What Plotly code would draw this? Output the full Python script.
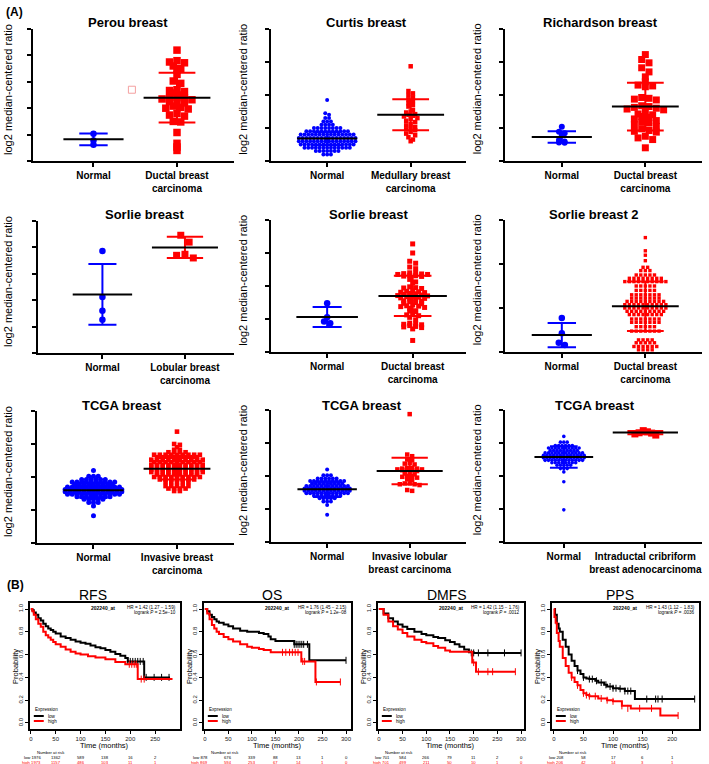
import plotly.graph_objects as go

W, H = 709, 764
FONT = "Liberation Sans, Arial, sans-serif"
BLUE = "#0000FF"
RED = "#FF0000"

# %%----------------------------- Panel A data --------------------------------
titles = ["Perou breast", "Curtis breast", "Richardson breast",
          "Sorlie breast", "Sorlie breast", "Sorlie breast 2",
          "TCGA breast", "TCGA breast", "TCGA breast"]
tumor_labels = ["Ductal breast<br>carcinoma", "Medullary breast<br>carcinoma",
                "Ductal breast<br>carcinoma", "Lobular breast<br>carcinoma",
                "Ductal breast<br>carcinoma", "Ductal breast<br>carcinoma",
                "Invasive breast<br>carcinoma", "Invasive lobular<br>breast carcinoma",
                "Intraductal cribriform<br>breast adenocarcinoma"]
y_ranges = [[-5, 0], [0, 4], [-2, 6], [-5, -2.5], [-6, 2], [-2, 4], [-6, 2], [-6, 2], [-8, 0]]
y_ticks = [[-5, -4, -3, -2, -1, 0], [0, 1, 2, 3, 4], [-2, 0, 2, 4, 6],
           [-5.0, -4.5, -4.0, -3.5, -3.0, -2.5], [-6, -4, -2, 0, 2], [-2, 0, 2, 4],
           [-6, -4, -2, 0, 2], [-6, -4, -2, 0, 2], [-8, -6, -4, -2, 0]]

perou_normal = [-3.97, -4.22, -4.38]
perou_tumor = [-0.8, -1.2, -1.25, -1.28, -1.4, -1.5, -1.55, -1.72, -1.97, -2.06, -2.3, -2.33,
               -2.37, -2.42, -2.5, -2.58, -2.6, -2.62, -2.65, -2.68, -2.7, -2.75, -2.8, -2.92,
               -2.97, -3.0, -3.03, -3.2, -3.26, -3.3, -3.5, -3.52, -3.92, -4.33, -4.47, -4.6]
curtis_normal = [1.85, 1.45, 1.4, 1.3, 1.3, 1.2, 1.2, 1.2, 1.1, 1.1, 1.1, 1.1,
                 1.0, 1.0, 1.0, 1.0, 1.0, 1.0, 1.0, 1.0,
                 0.9, 0.9, 0.9, 0.9, 0.9, 0.9, 0.9, 0.9, 0.9, 0.9, 0.9, 0.9,
                 0.8, 0.8, 0.8, 0.8, 0.8, 0.8, 0.8, 0.8, 0.8, 0.8, 0.8, 0.8, 0.8, 0.8, 0.8,
                 0.7, 0.7, 0.7, 0.7, 0.7, 0.7, 0.7, 0.7, 0.7, 0.7, 0.7, 0.7, 0.7, 0.7, 0.7, 0.7,
                 0.6, 0.6, 0.6, 0.6, 0.6, 0.6, 0.6, 0.6, 0.6, 0.6, 0.6, 0.6, 0.6, 0.6, 0.6, 0.6,
                 0.5, 0.5, 0.5, 0.5, 0.5, 0.5, 0.5, 0.5, 0.5, 0.5, 0.5, 0.5, 0.5, 0.5, 0.5,
                 0.4, 0.4, 0.4, 0.4, 0.4, 0.4, 0.4, 0.4, 0.4, 0.4, 0.4, 0.4, 0.4,
                 0.3, 0.3, 0.3, 0.3, 0.3, 0.3, 0.3, 0.2, 0.2, 0.2]
curtis_tumor = [2.87, 2.12, 2.05, 2.0, 1.93, 1.87, 1.82, 1.75, 1.7, 1.65, 1.55, 1.5, 1.47, 1.42,
                1.4, 1.37, 1.35, 1.3, 1.27, 1.22, 1.18, 1.12, 1.08, 1.03, 1.0, 0.96, 0.93, 0.88,
                0.83, 0.78, 0.72, 0.65, 0.6]
richardson_normal = [0.08, -0.22, -0.32, -0.45, -0.72, -0.82, -0.88, -0.9]
richardson_tumor = [4.45, 4.15, 3.95, 3.65, 3.4, 3.1, 2.8, 2.6, 2.55, 2.5, 1.85, 1.8, 1.75, 1.7,
                    1.35, 1.3, 1.25, 1.2, 1.15, 1.1, 1.05, 0.85, 0.8, 0.7, 0.65, 0.55, 0.45, 0.35,
                    0.3, 0.2, 0.1, -0.05, -0.15, -0.2, -0.25, -0.5, -0.6, -0.7, -1.2]
sorlie_lob_normal = [-3.07, -3.94, -4.2, -4.37]
sorlie_lob_tumor = [-2.77, -2.9, -3.13, -3.15, -3.2]
sorlie_duct_normal = [-3.05, -3.9, -4.15, -4.25]
sorlie_duct_tumor = [0.55, 0.0, -0.5, -0.62, -0.85, -0.95, -1.2, -1.22, -1.25, -1.27, -1.3, -1.3,
                     -1.35, -1.38, -1.4, -1.42, -1.6, -1.75, -1.8, -2.05, -2.1, -2.12, -2.15, -2.3,
                     -2.32, -2.35, -2.38, -2.4, -2.45, -2.47, -2.5, -2.55, -2.58, -2.6, -2.62, -2.65,
                     -2.68, -2.72, -2.75, -2.78, -2.8, -2.9, -2.92, -2.95, -3.0, -3.05, -3.08, -3.15,
                     -3.2, -3.22, -3.25, -3.3, -3.35, -3.5, -3.52, -3.55, -3.7, -3.75, -3.8, -3.9,
                     -4.05, -4.25, -4.3, -4.32, -4.35, -4.4, -4.45, -4.48, -4.52, -4.6, -5.3]
sorlie2_normal = [-0.45, -1.15, -1.58, -1.68]
sorlie2_tumor = [3.2, 2.6, 2.4, 2.15, 1.85, 1.85, 1.7, 1.7, 1.7,
                 1.5, 1.5, 1.5, 1.5, 1.5, 1.35, 1.35, 1.35, 1.35, 1.35, 1.35, 1.35, 1.35,
                 1.2, 1.2, 1.2, 1.2, 1.2, 1.2, 1.2, 1.2, 1.2, 1.2, 1.0, 1.0, 1.0, 1.0, 1.0,
                 0.8, 0.8, 0.8, 0.8, 0.8, 0.6, 0.6, 0.6, 0.6, 0.6, 0.6, 0.6,
                 0.45, 0.45, 0.45, 0.45, 0.45, 0.45, 0.45, 0.3, 0.3, 0.3, 0.3, 0.3, 0.3, 0.3, 0.3, 0.3,
                 0.15, 0.15, 0.15, 0.15, 0.15, 0.15, 0.15, 0.15, 0.15, 0.15,
                 0.0, 0.0, 0.0, 0.0, 0.0, 0.0, 0.0, 0.0, 0.0, 0.0,
                 -0.15, -0.15, -0.15, -0.15, -0.15, -0.15, -0.15, -0.15, -0.15,
                 -0.3, -0.3, -0.3, -0.3, -0.3, -0.3, -0.3, -0.3,
                 -0.5, -0.5, -0.5, -0.5, -0.5, -0.5, -0.5, -0.65, -0.65, -0.65, -0.65, -0.65, -0.65, -0.65,
                 -0.85, -0.85, -0.85, -0.85, -0.85, -1.05, -1.05, -1.05, -1.05, -1.05, -1.05, -1.05,
                 -1.45, -1.45, -1.45, -1.45, -1.58, -1.58, -1.58, -1.58, -1.58,
                 -1.75, -1.75, -1.75, -1.75, -1.75, -1.75, -1.9, -1.9, -1.9, -1.9]
tcga_normal = [-1.6, -1.95, -1.95, -1.95, -2.15, -2.15, -2.15, -2.15, -2.15, -2.15,
               -2.3, -2.3, -2.3, -2.3, -2.3, -2.3, -2.3, -2.3, -2.3, -2.3,
               -2.45, -2.45, -2.45, -2.45, -2.45, -2.45, -2.45, -2.45, -2.45,
               -2.6, -2.6, -2.6, -2.6, -2.6, -2.6, -2.6, -2.6, -2.6, -2.6, -2.6, -2.6,
               -2.75, -2.75, -2.75, -2.75, -2.75, -2.75, -2.75, -2.75, -2.75, -2.75, -2.75, -2.75, -2.75,
               -2.9, -2.9, -2.9, -2.9, -2.9, -2.9, -2.9, -2.9, -2.9, -2.9, -2.9, -2.9, -2.9,
               -3.05, -3.05, -3.05, -3.05, -3.05, -3.05, -3.05, -3.05, -3.05, -3.05, -3.05, -3.05,
               -3.2, -3.2, -3.2, -3.2, -3.2, -3.2, -3.2, -3.2, -3.35, -3.35, -3.35, -3.35, -3.35,
               -3.55, -3.55, -3.55, -3.75, -4.35]
tcga_crib_normal_extra = [-6.05]
tcga_inv_tumor = [0.75, 0.0, -0.05, -0.2, -0.35, -0.35, -0.5, -0.5, -0.5, -0.5,
                  -0.65, -0.65, -0.65, -0.65, -0.65, -0.65, -0.65, -0.65, -0.65,
                  -0.8, -0.8, -0.8, -0.8, -0.8, -0.8, -0.8, -0.8,
                  -0.95, -0.95, -0.95, -0.95, -0.95, -0.95, -0.95, -0.95, -0.95, -0.95,
                  -1.1, -1.1, -1.1, -1.1, -1.1, -1.1, -1.1, -1.1, -1.1,
                  -1.25, -1.25, -1.25, -1.25, -1.25, -1.25, -1.25, -1.25, -1.25, -1.25,
                  -1.4, -1.4, -1.4, -1.4, -1.4, -1.4, -1.4, -1.4, -1.4, -1.4,
                  -1.55, -1.55, -1.55, -1.55, -1.55, -1.55, -1.55, -1.55, -1.55, -1.55,
                  -1.7, -1.7, -1.7, -1.7, -1.7, -1.7, -1.7, -1.7, -1.7, -1.7,
                  -1.85, -1.85, -1.85, -1.85, -1.85, -1.85, -1.85, -1.85,
                  -2.0, -2.0, -2.0, -2.0, -2.0, -2.0, -2.0, -2.0, -2.0,
                  -2.15, -2.15, -2.15, -2.15, -2.15, -2.15, -2.15,
                  -2.3, -2.3, -2.3, -2.3, -2.3, -2.55, -2.55, -2.55, -2.55, -2.55,
                  -2.7, -2.7, -2.7, -2.7, -2.85, -2.85]
tcga_lob_tumor = [1.75, -0.7, -0.8, -1.0, -1.05, -1.2, -1.25, -1.3, -1.5, -1.5, -1.55, -1.55,
                  -1.6, -1.6, -1.62, -1.65, -1.65, -1.7, -1.8, -1.85, -1.9, -2.0, -2.0, -2.05,
                  -2.1, -2.2, -2.25, -2.45, -2.45, -2.5, -2.5, -2.55, -2.85, -2.9]
tcga_crib_tumor = [-1.25, -1.32, -1.38, -1.4, -1.45, -1.52]

normal_sets = [perou_normal, curtis_normal, richardson_normal, sorlie_lob_normal,
               sorlie_duct_normal, sorlie2_normal, tcga_normal, tcga_normal,
               tcga_normal + tcga_crib_normal_extra]
tumor_sets = [perou_tumor, curtis_tumor, richardson_tumor, sorlie_lob_tumor, sorlie_duct_tumor,
              sorlie2_tumor, tcga_inv_tumor, tcga_lob_tumor, tcga_crib_tumor]
# mean and SD
normal_mean = [-4.18, 0.68, -0.55, -3.89, -3.88, -1.23, -2.8, -2.8, -2.85]
normal_sd = [0.22, 0.2, 0.35, 0.575, 0.6, 0.55, 0.45, 0.47, 0.65]
tumor_mean = [-2.6, 1.4, 1.3, -3.0, -2.6, 0.08, -1.5, -1.7, -1.37]
tumor_sd = [0.94, 0.47, 1.45, 0.2, 1.22, 1.13, 0.65, 0.8, 0.1]
# stray marks visible in the figure: (panel, x in category units, y)
stray_panel = [0, 1]
stray_x = [0.46, -0.95]
stray_y = [-2.3, 2.15]

# %%----------------------------- Panel B data (KM) ---------------------------
km_titles = ["RFS", "OS", "DMFS", "PPS"]
km_hr = ["HR = 1.42 (1.27 \u2212 1.59)", "HR = 1.76 (1.45 \u2212 2.15)",
         "HR = 1.42 (1.15 \u2212 1.76)", "HR = 1.43 (1.12 \u2212 1.83)"]
km_p = ["2.5e\u221210", "1.2e\u221208", ".0012", ".0036"]

rfs_low_t = [0, 3, 6, 10, 15, 20, 25, 30, 35, 40, 45, 50, 60, 70, 80, 90, 100, 110, 120, 130, 140, 150, 160, 170, 180, 190, 195, 228, 280]
rfs_low_s = [1.0, 0.99, 0.97, 0.95, 0.92, 0.9, 0.87, 0.85, 0.83, 0.815, 0.8, 0.785, 0.76, 0.745, 0.73, 0.715, 0.705, 0.695, 0.68, 0.665, 0.655, 0.64, 0.625, 0.605, 0.59, 0.57, 0.54, 0.40, 0.40]
rfs_high_t = [0, 3, 6, 10, 15, 20, 25, 30, 35, 40, 45, 50, 60, 70, 80, 90, 100, 115, 130, 150, 170, 190, 215, 285]
rfs_high_s = [1.0, 0.98, 0.95, 0.91, 0.87, 0.845, 0.8, 0.77, 0.75, 0.73, 0.71, 0.69, 0.67, 0.645, 0.625, 0.61, 0.6, 0.585, 0.575, 0.56, 0.535, 0.515, 0.385, 0.385]
os_low_t = [0, 5, 10, 15, 20, 25, 30, 40, 50, 60, 75, 90, 100, 115, 125, 135, 140, 150, 190, 222, 300]
os_low_s = [1.0, 0.98, 0.95, 0.93, 0.91, 0.89, 0.88, 0.865, 0.85, 0.83, 0.81, 0.8, 0.8, 0.79, 0.78, 0.76, 0.735, 0.72, 0.69, 0.55, 0.55]
os_high_t = [0, 5, 10, 15, 20, 25, 30, 40, 50, 60, 75, 90, 100, 115, 125, 140, 160, 205, 235, 288]
os_high_s = [1.0, 0.96, 0.91, 0.86, 0.83, 0.8, 0.78, 0.755, 0.735, 0.715, 0.69, 0.67, 0.66, 0.65, 0.64, 0.62, 0.62, 0.54, 0.36, 0.36]
dmfs_low_t = [0, 10, 20, 30, 40, 50, 60, 75, 90, 100, 115, 125, 140, 150, 160, 170, 180, 190, 200, 300]
dmfs_low_s = [1.0, 0.96, 0.92, 0.89, 0.865, 0.845, 0.825, 0.8, 0.78, 0.77, 0.755, 0.745, 0.725, 0.71, 0.69, 0.67, 0.645, 0.62, 0.615, 0.615]
dmfs_high_t = [0, 10, 20, 30, 40, 50, 60, 75, 90, 100, 115, 125, 140, 150, 170, 197, 205, 288]
dmfs_high_s = [1.0, 0.95, 0.89, 0.85, 0.82, 0.79, 0.76, 0.73, 0.71, 0.7, 0.675, 0.66, 0.635, 0.625, 0.625, 0.53, 0.45, 0.45]
pps_low_t = [0, 2, 5, 8, 10, 15, 20, 25, 30, 35, 40, 45, 50, 55, 60, 70, 75, 85, 90, 100, 110, 120, 137, 238]
pps_low_s = [1.0, 0.95, 0.87, 0.83, 0.8, 0.73, 0.67, 0.6, 0.545, 0.5, 0.46, 0.43, 0.4, 0.39, 0.385, 0.37, 0.355, 0.335, 0.32, 0.305, 0.3, 0.28, 0.21, 0.21]
pps_high_t = [0, 1, 3, 5, 8, 10, 15, 20, 25, 30, 35, 40, 45, 50, 55, 60, 75, 90, 100, 115, 130, 180, 210]
pps_high_s = [1.0, 0.93, 0.88, 0.79, 0.72, 0.67, 0.57, 0.5, 0.44, 0.4, 0.36, 0.33, 0.29, 0.26, 0.245, 0.235, 0.215, 0.2, 0.19, 0.15, 0.128, 0.065, 0.065]

# censored observations (+ marks)
rfs_low_ct = [195, 200, 205, 210, 215, 220, 226, 232, 248, 263, 278]
rfs_low_cs = [0.54, 0.54, 0.54, 0.54, 0.54, 0.54, 0.54, 0.40, 0.40, 0.40, 0.40]
rfs_high_ct = [198, 203, 208, 212, 222, 228]
rfs_high_cs = [0.515, 0.515, 0.515, 0.515, 0.385, 0.385]
os_low_ct = [190, 194, 198, 202, 206, 210, 218, 300]
os_low_cs = [0.69, 0.69, 0.69, 0.69, 0.69, 0.69, 0.69, 0.55]
os_high_ct = [165, 172, 180, 186, 192, 198, 208, 212, 237, 288]
os_high_cs = [0.62, 0.62, 0.62, 0.62, 0.62, 0.62, 0.54, 0.54, 0.36, 0.36]
dmfs_low_ct = [195, 200, 210, 230, 265, 300]
dmfs_low_cs = [0.615, 0.615, 0.615, 0.615, 0.615, 0.615]
dmfs_high_ct = [200, 210, 230, 240, 288]
dmfs_high_cs = [0.53, 0.45, 0.45, 0.45, 0.45]
pps_low_ct = [40, 50, 60, 65, 72, 80, 88, 95, 100, 105, 112, 120, 125, 130, 157, 172, 176, 183, 238]
pps_low_cs = [0.46, 0.4, 0.385, 0.385, 0.37, 0.355, 0.335, 0.32, 0.305, 0.305, 0.3, 0.28, 0.28, 0.28, 0.21, 0.21, 0.21, 0.21, 0.21]
pps_high_ct = [30, 40, 50, 55, 60, 70, 80, 90, 100, 115, 125, 145, 165, 210]
pps_high_cs = [0.4, 0.33, 0.26, 0.245, 0.235, 0.235, 0.215, 0.2, 0.19, 0.15, 0.128, 0.128, 0.128, 0.065]

risk_t = [[0, 50, 100, 150, 200, 250], [0, 50, 100, 150, 200, 250, 300],
          [0, 50, 100, 150, 200, 250, 300], [0, 50, 100, 150, 200]]
risk_low = [[1976, 1362, 589, 138, 16, 2], [878, 676, 339, 88, 13, 1, 0],
            [701, 584, 266, 79, 11, 2, 0], [208, 58, 17, 6, 1]]
risk_high = [[1973, 1157, 486, 103, 11, 1], [869, 594, 253, 67, 14, 1, 0],
             [701, 499, 211, 50, 10, 1, 0], [206, 42, 14, 3, 1]]

km_low = [(rfs_low_t, rfs_low_s, rfs_low_ct, rfs_low_cs), (os_low_t, os_low_s, os_low_ct, os_low_cs),
          (dmfs_low_t, dmfs_low_s, dmfs_low_ct, dmfs_low_cs), (pps_low_t, pps_low_s, pps_low_ct, pps_low_cs)]
km_high = [(rfs_high_t, rfs_high_s, rfs_high_ct, rfs_high_cs), (os_high_t, os_high_s, os_high_ct, os_high_cs),
           (dmfs_high_t, dmfs_high_s, dmfs_high_ct, dmfs_high_cs), (pps_high_t, pps_high_s, pps_high_ct, pps_high_cs)]


# %%----------------------------- Helpers -------------------------------------
def fx(p):
    return p / W


def fy(p):
    return 1 - p / H


def swarm(vals, h, dx):
    """GraphPad-like scatter: points within h of a row start share a row, spread sideways."""
    order = sorted(range(len(vals)), key=lambda i: -vals[i])
    groups, cur, start = [], [], None
    for i in order:
        if start is None or start - vals[i] > h:
            if cur:
                groups.append(cur)
            cur, start = [i], vals[i]
        else:
            cur.append(i)
    if cur:
        groups.append(cur)
    offs = [0.0] * len(vals)
    for g in groups:
        n = len(g)
        slots = sorted(range(n), key=lambda k: (abs(k - (n - 1) / 2), k))
        for i, k in zip(g, slots):
            offs[i] = (k - (n - 1) / 2) * dx
    return offs


# layout of panel A (pixels): axis left, axis right, top, bottom, x of cat 0, x of cat 1, title x
pa_L = [32, 272, 507, 37, 272, 507, 36, 272, 507]
pa_R = [234, 468, 705, 234, 468, 705, 234, 468, 705]
pa_T = [29, 29, 29, 221, 220, 220, 411, 410, 410]
pa_B = [161, 161, 161, 353, 352, 352, 543, 542, 542]
pa_c0 = [93, 328, 564, 102, 328, 564, 93, 328, 566]
pa_c1 = [177, 412, 648, 185, 414, 648, 177, 411, 648]
pa_tx = [128, 368, 603, 144, 370, 596, 122, 363, 597]
pa_ty = [23, 23, 23, 214, 214, 214, 405, 405, 405]
ytitle_x = [7, 243, 479]
n_size = [6.5, 4, 6, 6.5, 6.5, 6.5, 5, 4, 3.6]
t_size = [7.5, 4.5, 7, 7, 5, 3.4, 4.6, 4.5, 7]
n_h = [0.1, 0.06, 0.15, 0.1, 0.2, 0.15, 0.1, 0.1, 0.1]
t_h = [0.12, 0.1, 0.25, 0.14, 0.15, 0.1, 0.1, 0.12, 0.3]
t_dx = [1.0, 1.0, 1.05, 1.2, 1.2, 1.35, 1.25, 1.1, 0.6]
tickfont_a = dict(family=FONT, size=10, color="black", weight="bold")

fig = go.Figure()
annotations = []
shapes = []
layout = {}

for k in range(9):
    sfx = "" if k == 0 else str(k + 1)
    xa, ya = "x" + sfx, "y" + sfx
    unit = pa_c1[k] - pa_c0[k]
    xr = [(pa_L[k] - pa_c0[k]) / unit, (pa_R[k] - pa_c0[k]) / unit]
    lo, hi = y_ranges[k]
    layout["xaxis" + sfx] = dict(
        domain=[fx(pa_L[k]), fx(pa_R[k])], range=xr, anchor=ya,
        tickvals=[0, 1], ticktext=["Normal", tumor_labels[k]],
        showline=True, linewidth=2, linecolor="black", ticks="outside", ticklen=4,
        tickwidth=2, tickcolor="black", showgrid=False, zeroline=False, tickfont=tickfont_a)
    layout["yaxis" + sfx] = dict(
        domain=[fy(pa_B[k]), fy(pa_T[k])], range=[lo, hi], anchor=xa,
        tickvals=y_ticks[k], showticklabels=False,
        showline=True, linewidth=2, linecolor="black", ticks="outside", ticklen=4,
        tickwidth=2, tickcolor="black", showgrid=False, zeroline=False)
    # y tick labels as a text trace just left of the axis line
    labs = [("%.1f" % v if k == 3 else "%d" % v).replace("-", "\u2212") for v in y_ticks[k]]
    fig.add_trace(go.Scatter(
        x=[xr[0] - 4.5 / unit] * len(labs), y=y_ticks[k], xaxis=xa, yaxis=ya, mode="text",
        text=labs, textposition="middle left", textfont=tickfont_a,
        cliponaxis=False, showlegend=False, hoverinfo="skip"))

    for j, (vals, col, sym, size, h, dxf) in enumerate([
            (normal_sets[k], BLUE, "circle", n_size[k], n_h[k], 0.95),
            (tumor_sets[k], RED, "square", t_size[k], t_h[k], t_dx[k])]):
        offs = swarm(vals, h, size * dxf / unit)
        fig.add_trace(go.Scatter(
            x=[j + o for o in offs], y=vals, xaxis=xa, yaxis=ya, mode="markers",
            marker=dict(color=col, symbol=sym, size=size, line_width=0),
            cliponaxis=False, showlegend=False, hoverinfo="skip"))

    # SD bars and mean lines
    for j, (m, s, col, cap, half) in enumerate([
            (normal_mean[k], normal_sd[k], BLUE, 0.17, 0.36),
            (tumor_mean[k], tumor_sd[k], RED, 0.22, 0.4)]):
        fig.add_trace(go.Scatter(
            x=[j, j, None, j - cap, j + cap, None, j - cap, j + cap],
            y=[m - s, m + s, None, m + s, m + s, None, m - s, m - s],
            xaxis=xa, yaxis=ya, mode="lines", line=dict(color=col, width=2),
            showlegend=False, hoverinfo="skip"))
        fig.add_trace(go.Scatter(
            x=[j - half, j + half], y=[m, m], xaxis=xa, yaxis=ya, mode="lines",
            line=dict(color="black", width=2), showlegend=False, hoverinfo="skip"))

    annotations.append(dict(x=fx(pa_tx[k]), y=fy(pa_ty[k]), xref="paper", yref="paper",
                            text="<b>%s</b>" % titles[k], showarrow=False,
                            font=dict(family=FONT, size=13, color="black")))
    annotations.append(dict(x=fx(ytitle_x[k % 3]), y=fy((pa_T[k] + pa_B[k]) / 2 - 6),
                            xref="paper", yref="paper", text="log2 median-centered ratio",
                            textangle=-90, showarrow=False,
                            font=dict(family=FONT, size=11, color="black")))

# stray marks
for p, sx, sy in zip(stray_panel, stray_x, stray_y):
    sfx = "" if p == 0 else str(p + 1)
    fig.add_trace(go.Scatter(
        x=[sx], y=[sy], xaxis="x" + sfx, yaxis="y" + sfx, mode="markers",
        marker=dict(symbol="square-open" if p == 0 else "square",
                    color="#F4A0A0" if p == 0 else RED, size=7 if p == 0 else 6,
                    line=dict(width=1, color="#F4A0A0" if p == 0 else RED)),
        cliponaxis=False, showlegend=False, hoverinfo="skip"))

# %%----------------------------- Panel B (KM) --------------------------------
km_L = [29, 204, 379, 554]
km_R = [180, 352, 526, 702]
km_T, km_B = 603, 729
km_x0 = [30, 205, 380, 556]
km_ppm = [0.5, 0.4733, 0.4767, 0.595]  # pixels per month
km_ticks = [[0, 50, 100, 150, 200, 250], [0, 50, 100, 150, 200, 250, 300],
            [0, 50, 100, 150, 200, 250, 300], [0, 50, 100, 150, 200]]
km_title_x = [93, 273, 449, 623]
risk_shift = [12, 5, 13, 12]

for i in range(4):
    n = 10 + i
    sfx = str(n)
    xa, ya = "x" + sfx, "y" + sfx
    xr = [(km_L[i] - km_x0[i]) / km_ppm[i], (km_R[i] - km_x0[i]) / km_ppm[i]]
    layout["xaxis" + sfx] = dict(
        domain=[fx(km_L[i]), fx(km_R[i])], range=xr, anchor=ya, tickvals=km_ticks[i],
        showline=True, mirror=True, linewidth=1.5, linecolor="black", ticks="outside",
        ticklen=3, tickwidth=0.8, tickcolor="black", showgrid=False, zeroline=False,
        tickfont=dict(family=FONT, size=6, color="#222"))
    layout["yaxis" + sfx] = dict(
        domain=[fy(km_B), fy(km_T)], range=[-0.053, 1.053], anchor=xa,
        tickvals=[0, 0.2, 0.4, 0.6, 0.8, 1.0], tickformat=".1f", tickangle=-90,
        showline=True, mirror=True, linewidth=1.5, linecolor="black", ticks="outside",
        ticklen=3, tickwidth=0.8, tickcolor="black", showgrid=False, zeroline=False,
        tickfont=dict(family=FONT, size=6, color="#222"))
    for (t, s, ct, cs), col in [(km_low[i], "black"), (km_high[i], RED)]:
        fig.add_trace(go.Scatter(x=t, y=s, xaxis=xa, yaxis=ya, mode="lines",
                                 line=dict(color=col, width=2, shape="hv"),
                                 showlegend=False, hoverinfo="skip"))
        fig.add_trace(go.Scatter(x=ct, y=cs, xaxis=xa, yaxis=ya, mode="markers",
                                 marker=dict(symbol="line-ns", size=5,
                                             line=dict(color=col, width=1)),
                                 showlegend=False, hoverinfo="skip"))

    L, R = km_L[i], km_R[i]
    small = dict(family=FONT, size=4.6, color="black")
    annotations += [
        dict(x=fx(km_title_x[i]), y=fy(595), xref="paper", yref="paper", text=km_titles[i],
             showarrow=False, font=dict(family=FONT, size=14, color="black")),
        dict(x=fx(L + 74), y=fy(608), xref="paper", yref="paper", text="<b>202240_at</b>",
             showarrow=False, font=dict(family=FONT, size=5, color="black")),
        dict(x=fx(R - 2), y=fy(607.5), xref="paper", yref="paper", xanchor="right",
             text=km_hr[i], showarrow=False, font=small),
        dict(x=fx(R - 2), y=fy(612.5), xref="paper", yref="paper", xanchor="right",
             text="logrank <i>P</i> = " + km_p[i], showarrow=False, font=small),
        dict(x=fx(L + 3), y=fy(709), xref="paper", yref="paper", xanchor="left",
             text="Expression", showarrow=False, font=small),
        dict(x=fx(L + 16), y=fy(716), xref="paper", yref="paper", xanchor="left",
             text="low", showarrow=False, font=small),
        dict(x=fx(L + 16), y=fy(721), xref="paper", yref="paper", xanchor="left",
             text="high", showarrow=False, font=small),
        dict(x=fx((L + R) / 2), y=fy(745), xref="paper", yref="paper", text="Time (months)",
             showarrow=False, font=dict(family=FONT, size=7.5, color="black")),
        dict(x=fx(L - 15), y=fy((km_T + km_B) / 2), xref="paper", yref="paper",
             text="Probability", textangle=-90, showarrow=False,
             font=dict(family=FONT, size=7.5, color="black")),
        dict(x=fx(L + 21), y=fy(752.5), xref="paper", yref="paper", text="Number at risk",
             showarrow=False, font=dict(family=FONT, size=4.2, color="black")),
    ]
    shapes += [
        dict(type="line", xref="paper", yref="paper", x0=fx(L + 4), x1=fx(L + 14),
             y0=fy(716), y1=fy(716), line=dict(color="black", width=2)),
        dict(type="line", xref="paper", yref="paper", x0=fx(L + 4), x1=fx(L + 14),
             y0=fy(721), y1=fy(721), line=dict(color=RED, width=2)),
    ]
    for row, (vals, col, lab, ypx) in enumerate([(risk_low[i], "black", "low", 757.5),
                                                  (risk_high[i], RED, "high", 762)]):
        for c, (t, v) in enumerate(zip(risk_t[i], vals)):
            if c == 0:
                annotations.append(dict(x=t, y=fy(ypx), xref=xa, yref="paper", xanchor="right",
                                        xshift=risk_shift[i], text="%s %d" % (lab, v),
                                        showarrow=False, font=dict(family=FONT, size=4.2, color=col)))
            else:
                annotations.append(dict(x=t, y=fy(ypx), xref=xa, yref="paper", text=str(v),
                                        showarrow=False, font=dict(family=FONT, size=4.2, color=col)))

annotations += [
    dict(x=fx(14), y=fy(12), xref="paper", yref="paper", text="<b>(A)</b>", showarrow=False,
         font=dict(family=FONT, size=12, color="black")),
    dict(x=fx(15), y=fy(585), xref="paper", yref="paper", text="<b>(B)</b>", showarrow=False,
         font=dict(family=FONT, size=12, color="black")),
]
for a in annotations:
    a.setdefault("xanchor", "center")
    a.setdefault("yanchor", "middle")

fig.update_layout(width=W, height=H, autosize=False, margin=dict(l=0, r=0, t=0, b=0),
                  paper_bgcolor="white", plot_bgcolor="white", showlegend=False,
                  annotations=annotations, shapes=shapes, font=dict(family=FONT), **layout)
# the page body has a default 8px margin; drop it so the figure sits at the window origin
fig.write_html("out.html", config={"displayModeBar": False},
               post_script="document.body.style.margin='0';"
                           "document.body.style.overflow='hidden';"
                           "document.documentElement.style.overflow='hidden';")
